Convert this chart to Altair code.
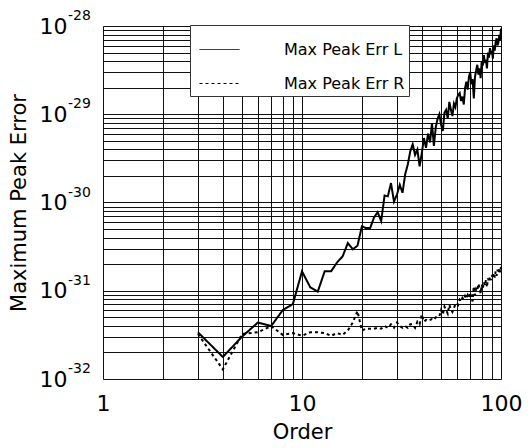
import altair as alt
import pandas as pd

# ---- data (log10 of the maximum peak error) ----
orders = list(range(3, 101))

err_l_log = [
    -31.47, -31.75, -31.52, -31.36, -31.40, -31.22, -31.15, -30.78, -30.96, -31.01,  # 3-12
    -30.78, -30.78, -30.68, -30.61, -30.46, -30.53, -30.49, -30.27, -30.29, -30.29,  # 13-22
    -30.17, -30.11, -30.21, -29.92, -29.93, -29.78, -29.99, -29.91, -29.80, -29.89,  # 23-32
    -29.68, -29.57, -29.42, -29.34, -29.46, -29.40, -29.59, -29.44, -29.27, -29.38,  # 33-42
    -29.22, -29.32, -29.10, -29.36, -29.15, -29.05, -29.00, -29.12, -29.19, -28.98,  # 43-52
    -28.95, -29.05, -28.86, -28.95, -29.02, -28.88, -28.92, -28.82, -28.78, -28.76,  # 53-62
    -28.85, -28.80, -28.89, -28.70, -28.63, -28.72, -28.58, -28.52, -28.66, -28.60,  # 63-72
    -28.82, -28.58, -28.50, -28.44, -28.55, -28.48, -28.59, -28.40, -28.45, -28.33,  # 73-82
    -28.42, -28.38, -28.48, -28.30, -28.36, -28.25, -28.32, -28.28, -28.37, -28.22,  # 83-92
    -28.28, -28.18, -28.14, -28.22, -28.19, -28.10, -28.16, -28.03,                  # 93-100
]

err_r_log = [
    -31.49, -31.89, -31.49, -31.47, -31.40, -31.50, -31.48, -31.51, -31.47, -31.47,  # 3-12
    -31.48, -31.51, -31.48, -31.50, -31.45, -31.36, -31.23, -31.45, -31.43, -31.43,  # 13-22
    -31.43, -31.42, -31.43, -31.40, -31.42, -31.38, -31.42, -31.36, -31.40, -31.42,  # 23-32
    -31.40, -31.42, -31.38, -31.38, -31.42, -31.35, -31.38, -31.27, -31.35, -31.33,  # 33-42
    -31.34, -31.33, -31.32, -31.33, -31.30, -31.30, -31.29, -31.22, -31.27, -31.18,  # 43-52
    -31.22, -31.26, -31.16, -31.21, -31.24, -31.20, -31.15, -31.14, -31.16, -31.10,  # 53-62
    -31.12, -31.08, -31.10, -31.06, -31.09, -31.05, -31.08, -31.02, -31.08, -31.12,  # 63-72
    -30.95, -31.05, -30.98, -31.00, -30.92, -30.97, -31.03, -30.93, -30.98, -30.90,  # 73-82
    -30.94, -30.88, -30.96, -30.86, -30.90, -30.84, -30.88, -30.82, -30.86, -30.80,  # 83-92
    -30.85, -30.78, -30.83, -30.76, -30.80, -30.74, -30.79, -30.73,                  # 93-100
]

series_names = ["Max Peak Err L", "Max Peak Err R"]

x_ticks = [1, 2, 3, 4, 5, 6, 7, 8, 9, 10, 20, 30, 40, 50, 60, 70, 80, 90, 100]
y_decades = [-32, -31, -30, -29, -28]
y_ticks = [m * 10.0 ** d for d in y_decades[:-1] for m in range(1, 10)] + [10.0 ** y_decades[-1]]

# ---- tables ----
df = pd.DataFrame({
    "order": orders * 2,
    "err": [10.0 ** v for v in err_l_log] + [10.0 ** v for v in err_r_log],
    "series": [series_names[0]] * len(orders) + [series_names[1]] * len(orders),
})
exp_df = pd.DataFrame({
    "value": [10.0 ** d for d in y_decades],
    "exp": [str(d) for d in y_decades],
})

FONT = "DejaVu Sans"
x_scale = alt.Scale(type="log", domain=[1, 100], nice=False)
y_scale = alt.Scale(type="log", domain=[1e-32, 1e-28], nice=False)

grid_style = dict(grid=True, gridColor="#111111", gridOpacity=1, gridWidth=1,
                  ticks=False, domain=False, labelOverlap=False, labelFlush=False,
                  labelFont=FONT, labelColor="black", labelFontSize=22,
                  titleFont=FONT, titleColor="black", titleFontSize=21, titleFontWeight="normal")

lines = alt.Chart(df).mark_line(color="black", strokeWidth=2).encode(
    x=alt.X("order:Q", scale=x_scale,
            axis=alt.Axis(values=x_ticks, title="Order",
                          labelExpr="indexof([1, 10, 100], datum.value) >= 0 ? '' + datum.value : ''",
                          labelPadding=14, titlePadding=7, **grid_style)),
    y=alt.Y("err:Q", scale=y_scale,
            axis=alt.Axis(values=y_ticks, title="Maximum Peak Error",
                          labelExpr="abs(log(datum.value)/LN10 - round(log(datum.value)/LN10)) < 0.01 ? '10' : ''",
                          labelPadding=36, titlePadding=10, **grid_style)),
    strokeDash=alt.StrokeDash("series:N",
                              scale=alt.Scale(domain=series_names, range=[[1, 0], [3, 3]]),
                              legend=alt.Legend(title=None, orient="none", legendX=87, legendY=-1,
                                                fillColor="white", strokeColor="#333333", padding=4,
                                                symbolType="stroke", symbolSize=1600, symbolOffset=5,
                                                symbolStrokeWidth=1, symbolStrokeColor="black",
                                                labelFontSize=16, labelOffset=44, labelFont=FONT,
                                                labelColor="black", rowPadding=5,
                                                labelExpr="datum.label + '\u00a0\u00a0'")),
)

exponents = alt.Chart(exp_df).mark_text(align="left", baseline="middle", fontSize=14,
                                         font=FONT, dy=-10, color="black").encode(
    x=alt.value(-35),
    y=alt.Y("value:Q", scale=y_scale),
    text="exp:N",
)

chart = alt.layer(lines, exponents).properties(
    width=398, height=353,
    autosize=alt.AutoSizeParams(type="none"),
    padding={"left": 95, "top": 18, "right": 22, "bottom": 66},
).configure_view(
    stroke="black", strokeWidth=1
).configure(background="white")

chart.save("out.html", embed_options={"renderer": "svg", "actions": False})
